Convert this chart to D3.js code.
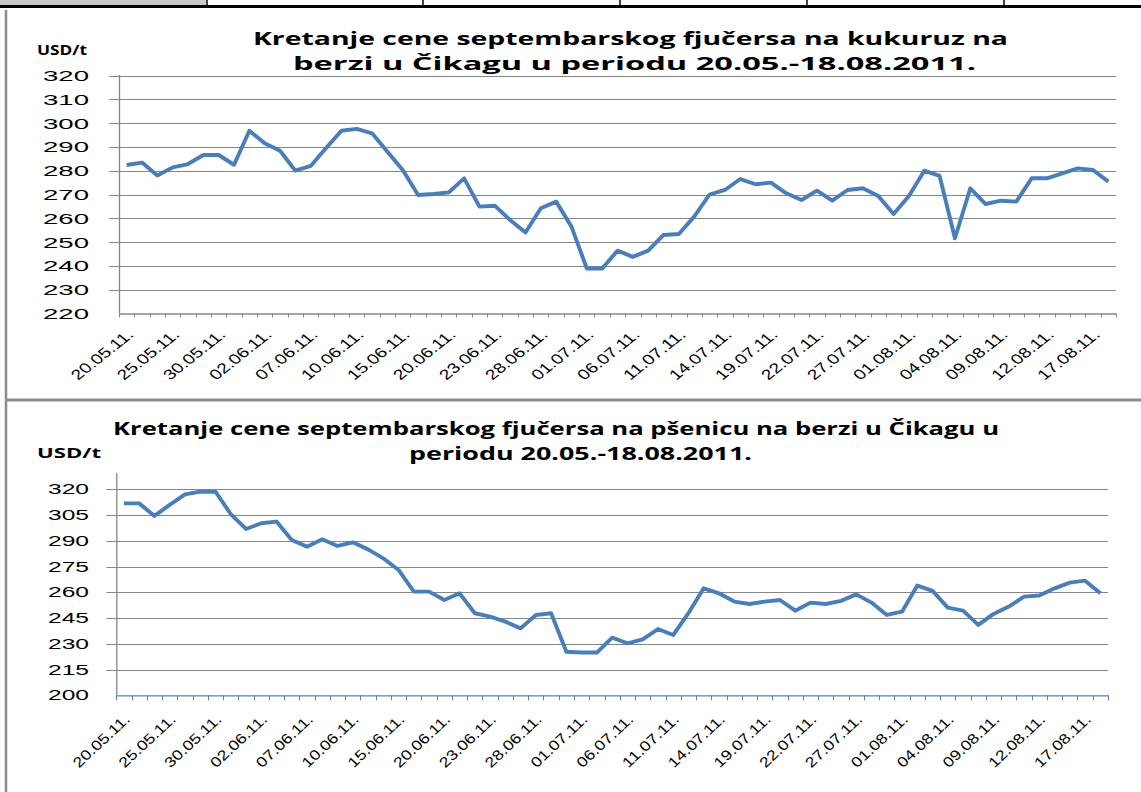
<!DOCTYPE html>
<html>
<head>
<meta charset="utf-8">
<script src="https://cdn.jsdelivr.net/npm/d3@7"></script>
<style>
  body { margin: 0; background: #fff; }
  svg { display: block; }
  .grid line { stroke: #868686; stroke-width: 1; }
  .series { fill: none; stroke: #4a7ebb; stroke-width: 3.9; stroke-linejoin: round; }
</style>
</head>
<body>
<div id="chart"></div>
<script>
// Categories: every weekday from 20.05.11. to 18.08.11.
const dates = [
    '20.05.11.', '23.05.11.', '24.05.11.', '25.05.11.', '26.05.11.', '27.05.11.', '30.05.11.', '31.05.11.',
    '01.06.11.', '02.06.11.', '03.06.11.', '06.06.11.', '07.06.11.', '08.06.11.', '09.06.11.', '10.06.11.',
    '13.06.11.', '14.06.11.', '15.06.11.', '16.06.11.', '17.06.11.', '20.06.11.', '21.06.11.', '22.06.11.',
    '23.06.11.', '24.06.11.', '27.06.11.', '28.06.11.', '29.06.11.', '30.06.11.',
    '01.07.11.', '04.07.11.', '05.07.11.', '06.07.11.', '07.07.11.', '08.07.11.', '11.07.11.', '12.07.11.',
    '13.07.11.', '14.07.11.', '15.07.11.', '18.07.11.', '19.07.11.', '20.07.11.', '21.07.11.', '22.07.11.',
    '25.07.11.', '26.07.11.', '27.07.11.', '28.07.11.', '29.07.11.',
    '01.08.11.', '02.08.11.', '03.08.11.', '04.08.11.', '05.08.11.', '08.08.11.', '09.08.11.', '10.08.11.',
    '11.08.11.', '12.08.11.', '15.08.11.', '16.08.11.', '17.08.11.', '18.08.11.'
];

// Corn (kukuruz), USD/t
const cornValues = [
    282.4, 283.4, 278.0, 281.4, 282.8, 286.6, 286.6, 282.5, 296.8, 291.5,
    288.4, 280.0, 282.0, 289.5, 296.8, 297.6, 295.7, 288.0, 280.3, 269.8,
    270.2, 270.9, 276.8, 264.9, 265.3, 259.3, 254.0, 264.2, 267.0, 256.5,
    238.9, 238.9, 246.4, 243.8, 246.4, 253.0, 253.4, 260.7, 270.0, 271.9,
    276.5, 274.3, 275.0, 270.5, 267.7, 271.6, 267.4, 271.9, 272.6, 269.4,
    261.8, 269.4, 280.0, 277.8, 251.6, 272.6, 266.0, 267.4, 267.0, 276.8,
    276.8, 278.9, 281.0, 280.3, 275.4
];

// Wheat (pšenica), USD/t
const wheatValues = [
    311.8, 311.8, 304.5, 310.9, 317.0, 318.6, 318.6, 305.6, 296.9, 300.2,
    301.2, 290.5, 286.6, 290.9, 287.0, 289.1, 285.0, 279.8, 273.0, 260.4,
    260.4, 255.5, 259.4, 247.8, 245.8, 242.9, 239.0, 246.8, 247.8, 225.4,
    224.9, 224.9, 233.6, 230.3, 232.6, 238.6, 235.1, 247.8, 262.3, 259.4,
    254.6, 253.2, 254.6, 255.5, 249.3, 254.0, 253.2, 255.0, 258.8, 254.0,
    246.8, 248.7, 263.9, 260.8, 251.1, 249.3, 241.0, 247.4, 251.7, 257.5,
    258.1, 262.3, 265.6, 266.8, 259.4
];

const cornTicks = [220, 230, 240, 250, 260, 270, 280, 290, 300, 310, 320];
const wheatTicks = [200, 215, 230, 245, 260, 275, 290, 305, 320];

const W = 1141, H = 792;

const svg = d3.select('#chart')
    .append('svg')
    .attr('width', W)
    .attr('height', H);

// Sheet leftovers: top cell row and the two chart frames
svg.append('rect').attr('x', 0).attr('y', 0).attr('width', 206).attr('height', 5).attr('fill', '#c8c8c8');
[207, 423, 620, 807, 1004].forEach(x => {
    svg.append('line').attr('x1', x).attr('x2', x).attr('y1', 0).attr('y2', 6)
        .attr('stroke', '#000').attr('stroke-width', 1.5);
});
svg.append('rect').attr('x', 0).attr('y', 5).attr('width', W).attr('height', 3).attr('fill', '#000');
svg.append('line').attr('x1', 6).attr('x2', 6).attr('y1', 10).attr('y2', 399)
    .attr('stroke', '#8c8c8c').attr('stroke-width', 2.5);
svg.append('line').attr('x1', 5).attr('x2', W).attr('y1', 400).attr('y2', 400)
    .attr('stroke', '#8c8c8c').attr('stroke-width', 3);
svg.append('line').attr('x1', 6).attr('x2', 6).attr('y1', 401).attr('y2', H)
    .attr('stroke', '#8c8c8c').attr('stroke-width', 2.5);

function drawChart(cfg) {
    const g = svg.append('g');

    const x = d3.scaleBand()
        .domain(dates)
        .range([cfg.left, cfg.right])
        .padding(0);

    const y = d3.scaleLinear()
        .domain([cfg.ticks[0], cfg.ticks[cfg.ticks.length - 1]])
        .range([cfg.bottom, cfg.top]);

    // Horizontal gridlines (they also form the outside ticks of the value axis)
    g.append('g')
        .attr('class', 'grid')
        .selectAll('line')
        .data(cfg.ticks.slice(1))
        .enter()
        .append('line')
        .attr('x1', cfg.left - 10)
        .attr('x2', cfg.right)
        .attr('y1', d => Math.round(y(d)) + 0.5)
        .attr('y2', d => Math.round(y(d)) + 0.5);

    // Value axis labels
    g.append('g')
        .selectAll('text')
        .data(cfg.ticks)
        .enter()
        .append('text')
        .attr('x', cfg.labelRight)
        .attr('y', d => y(d))
        .attr('dy', '0.36em')
        .attr('text-anchor', 'end')
        .attr('textLength', cfg.labelWidth)
        .attr('lengthAdjust', 'spacingAndGlyphs')
        .style('font-family', 'Liberation Sans, Arial, sans-serif')
        .style('font-size', cfg.labelSize + 'px')
        .style('fill', '#000')
        .text(d => d);

    // Value axis line
    g.append('line')
        .attr('x1', cfg.left + 0.5).attr('x2', cfg.left + 0.5)
        .attr('y1', cfg.axisTop).attr('y2', cfg.bottom)
        .attr('stroke', '#868686').attr('stroke-width', 1.3);

    // Category axis
    const catAxis = d3.axisBottom(x)
        .tickSizeInner(0)
        .tickSizeOuter(0)
        .tickFormat('');
    g.append('g')
        .attr('transform', `translate(0,${cfg.bottom})`)
        .call(catAxis)
        .call(a => a.select('.domain').attr('stroke', cfg.axisColor).attr('stroke-width', 1.3))
        .call(a => a.selectAll('.tick').remove());

    const edges = dates.map(d => x(d)).concat([cfg.right]);
    g.append('g')
        .selectAll('line')
        .data(edges)
        .enter()
        .append('line')
        .attr('x1', d => Math.round(d) + 0.5)
        .attr('x2', d => Math.round(d) + 0.5)
        .attr('y1', cfg.bottom)
        .attr('y2', cfg.bottom + cfg.tickLen)
        .attr('stroke', cfg.axisColor)
        .attr('stroke-width', 1);

    // Every third date is labelled, rotated
    g.append('g')
        .selectAll('text')
        .data(dates.filter((d, i) => i % 3 === 0))
        .enter()
        .append('text')
        .attr('transform', d => {
            const cx = x(d) + x.bandwidth() / 2;
            return `translate(${cx + cfg.dateDx},${cfg.bottom + cfg.dateDy}) scale(${cfg.dateStretch},1) rotate(-45)`;
        })
        .attr('text-anchor', 'end')
        .attr('textLength', cfg.dateLength)
        .attr('lengthAdjust', 'spacingAndGlyphs')
        .style('font-family', 'Liberation Sans, Arial, sans-serif')
        .style('font-size', '14px')
        .style('fill', '#000')
        .text(d => d);

    // Price line
    const line = d3.line()
        .x((d, i) => x(dates[i]) + x.bandwidth() / 2)
        .y(d => y(d));

    g.append('path')
        .datum(cfg.values)
        .attr('class', 'series')
        .attr('d', line);

    // Titles
    cfg.title.forEach(t => {
        g.append('text')
            .attr('x', t.x)
            .attr('y', t.y)
            .attr('textLength', t.w)
            .attr('lengthAdjust', 'spacingAndGlyphs')
            .style('font-family', 'Open Sans, Noto Sans, sans-serif')
            .style('font-weight', 'bold')
            .style('font-size', t.size + 'px')
            .style('fill', '#000')
            .text(t.text);
    });
}

drawChart({
    values: cornValues,
    ticks: cornTicks,
    left: 119, right: 1116, top: 75.5, bottom: 313.5, axisTop: 75,
    labelRight: 89, labelWidth: 46, labelSize: 15,
    axisColor: '#868686', tickLen: 4,
    dateDx: 8, dateDy: 22, dateStretch: 1.25, dateLength: 64,
    title: [
        { text: 'USD/t', x: 37, y: 55, w: 50, size: 14 },
        { text: 'Kretanje cene septembarskog fjučersa na kukuruz na', x: 253, y: 45, w: 755, size: 18 },
        { text: 'berzi u Čikagu u periodu 20.05.-18.08.2011.', x: 293, y: 70, w: 683, size: 18 }
    ]
});

drawChart({
    values: wheatValues,
    ticks: wheatTicks,
    left: 116.3, right: 1108, top: 489.3, bottom: 695.3, axisTop: 473,
    labelRight: 89, labelWidth: 41, labelSize: 14,
    axisColor: '#4f81bd', tickLen: 5,
    dateDx: 7, dateDy: 25, dateStretch: 1.08, dateLength: 68,
    title: [
        { text: 'USD/t', x: 37, y: 458, w: 64, size: 15 },
        { text: 'Kretanje cene septembarskog  fjučersa na pšenicu na berzi u Čikagu u', x: 113, y: 435, w: 886, size: 18 },
        { text: 'periodu 20.05.-18.08.2011.', x: 409, y: 460, w: 343, size: 18 }
    ]
});
</script>
</body>
</html>
